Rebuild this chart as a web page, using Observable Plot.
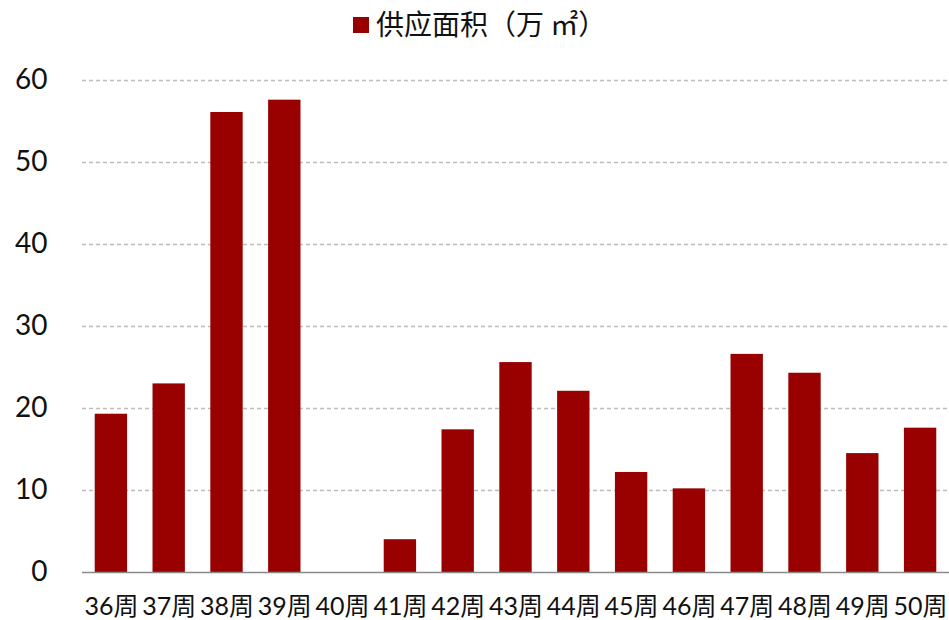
<!DOCTYPE html>
<html>
<head>
<meta charset="utf-8">
<script src="https://cdn.jsdelivr.net/npm/d3@7"></script>
<script src="https://cdn.jsdelivr.net/npm/@observablehq/plot@0.6"></script>
<style>
  html, body { margin: 0; padding: 0; background: #fff; }
  #wrap { position: relative; width: 949px; height: 620px; overflow: hidden; }
  #legend { position: absolute; left: 0; top: 0; width: 949px; height: 48px; }
  #legend .sw { position: absolute; left: 353px; top: 17px; width: 16px; height: 16px; background: #990000; }
  #legend .tx { position: absolute; left: 376px; top: 4px; font-family: "Noto Sans CJK SC", sans-serif; font-size: 28px; line-height: 38px; color: #111; white-space: nowrap; }
  #chart { position: absolute; left: 0; top: 48px; }
</style>
</head>
<body>
<div id="wrap">
  <div id="legend"><div class="sw"></div><div class="tx"></div></div>
  <div id="chart"></div>
</div>
<script>
const seriesName = "供应面积（万 ㎡）";
const weeks = ["36周","37周","38周","39周","40周","41周","42周","43周","44周","45周","46周","47周","48周","49周","50周"];
const supply = [19.3, 23.0, 56.1, 57.6, 0, 4.0, 17.4, 25.6, 22.1, 12.2, 10.2, 26.6, 24.3, 14.5, 17.6];
const yTicks = [0, 10, 20, 30, 40, 50, 60];

document.querySelector("#legend .tx").textContent = seriesName;

const data = weeks.map((w, i) => ({week: w, value: supply[i]}));

const chart = Plot.plot({
  width: 949,
  height: 572,
  marginTop: 32,
  marginBottom: 48,
  marginLeft: 82,
  marginRight: 0,
  style: {fontFamily: "Lato, 'Noto Sans CJK SC', sans-serif", background: "transparent", color: "#000"},
  x: {domain: weeks, paddingInner: 0.44, paddingOuter: 0.22, round: false, label: null},
  y: {domain: [0, 60], label: null},
  marks: [
    Plot.gridY(yTicks.filter(d => d > 0), {stroke: "#bdbdbd", strokeOpacity: 1, strokeWidth: 1.3, strokeDasharray: "4,3"}),
    Plot.barY(data, {x: "week", y: "value", fill: "#990000"}),
    Plot.ruleY([0], {stroke: "#8a8a8a", strokeWidth: 1.6}),
    Plot.axisY(yTicks, {tickSize: 0, tickPadding: 35, fontSize: 28, label: null, fill: "#111"}),
    Plot.axisX({tickSize: 0, tickPadding: 25, fontSize: 25, label: null, fill: "#111"})
  ]
});
document.getElementById("chart").appendChild(chart);
</script>
</body>
</html>
